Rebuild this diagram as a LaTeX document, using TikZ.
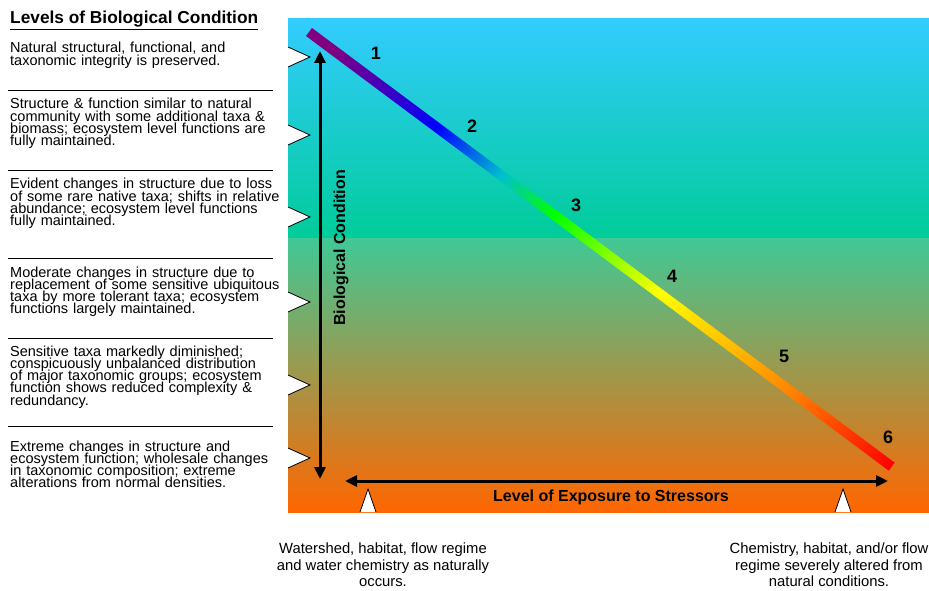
\documentclass[tikz,border=0pt]{standalone}
\usepackage{fontspec}
\setmainfont{Liberation Sans}
\usetikzlibrary{arrows.meta}
\definecolor{skytop}{HTML}{33CCFF}
\definecolor{skybot}{HTML}{00CC99}
\definecolor{lowtop}{HTML}{40C896}
\definecolor{lowmid}{HTML}{B89A70}
\definecolor{lowbot}{HTML}{FF6600}
\definecolor{rbpurple}{HTML}{800080}
\definecolor{rbteal}{HTML}{00C0D0}
\definecolor{rborange}{HTML}{FF8800}
\pgfdeclarehorizontalshading{rainbow}{100bp}{color(0bp)=(rbpurple); color(27bp)=(rbpurple);
  color(36bp)=(blue); color(41.5bp)=(rbteal); color(46bp)=(green); color(55bp)=(yellow);
  color(66bp)=(rborange); color(75bp)=(red); color(100bp)=(red)}
\DeclareRobustCommand\tightlines{\lineskiplimit=-20pt\relax}
\tikzset{
  condtext/.style={anchor=base west, inner sep=0pt, text width=270pt, align=left,
    font=\fontsize{14.5}{12.3}\selectfont\tightlines},
  numlab/.style={font=\bfseries\fontsize{18}{18}\selectfont},
  axislab/.style={font=\bfseries\fontsize{16}{16}\selectfont},
  endtext/.style={align=center, font=\fontsize{14.8}{16.5}\selectfont},
  notch/.style={fill=white, draw=black, line width=0.8pt},
  bigarrow/.style={{Triangle[length=12pt,width=11pt]}-{Triangle[length=12pt,width=11pt]}, line width=3pt}
}
\begin{document}
\begin{tikzpicture}[x=1pt, y=-1pt]
    \useasboundingbox (0,0) rectangle (929,591);
    %
    \shade[top color=skytop, bottom color=skybot] (288,19) rectangle (929,238.5);
    \shade[top color=lowtop, middle color=lowmid, bottom color=lowbot] (288,238.5) rectangle (929,512);
    \begin{scope}[transform canvas={shift={(309,32)}, rotate=-36.72}]
        \shade[shading=rainbow] (0,-5) rectangle (727,5);
    \end{scope}
    %
    \foreach \ny in {57,135,217,302,385,458}
        \filldraw[notch] (288,\ny-10) -- (310,\ny) -- (288,\ny+10);
    \foreach \nx in {368,843}
        \filldraw[notch] (\nx-8,512) -- (\nx,489) -- (\nx+8,512);
    %
    \node(title)[anchor=base west, inner sep=0pt, font=\bfseries\fontsize{17.3}{18}\selectfont]
        at (10,24) {\underline{Levels of Biological Condition}};
    \node(cond1)[condtext] at (10,53) {Natural structural, functional, and\\
        taxonomic integrity is preserved.};
    \node(cond2)[condtext] at (10,109) {Structure \& function similar to natural\\
        community with some additional taxa \&\\ biomass; ecosystem level functions are\\
        fully maintained.};
    \node(cond3)[condtext] at (10,189) {Evident changes in structure due to loss\\
        of some rare native taxa; shifts in relative\\ abundance; ecosystem level functions\\
        fully maintained.};
    \node(cond4)[condtext] at (10,277) {Moderate changes in structure due to\\
        replacement of some sensitive ubiquitous\\ taxa by more tolerant taxa; ecosystem\\
        functions largely maintained.};
    \node(cond5)[condtext] at (10,356) {Sensitive taxa markedly diminished;\\
        conspicuously unbalanced distribution\\ of major taxonomic groups; ecosystem\\
        function shows reduced complexity \&\\ redundancy.};
    \node(cond6)[condtext] at (10,451) {Extreme changes in structure and\\
        ecosystem function; wholesale changes\\ in taxonomic composition; extreme\\
        alterations from normal densities.};
    \foreach \sy in {90,170,258,338,426}
        \draw[line width=0.8pt] (8,\sy) -- (273,\sy);
    %
    \node(num1)[numlab] at (376,53) {1};
    \node(num2)[numlab] at (472,126) {2};
    \node(num3)[numlab] at (576,205) {3};
    \node(num4)[numlab] at (672,276) {4};
    \node(num5)[numlab] at (784,356) {5};
    \node(num6)[numlab] at (888,437) {6};
    %
    \coordinate (bctop) at (320,51);
    \coordinate (bcbot) at (320,479);
    \coordinate (exleft) at (345,481);
    \coordinate (exright) at (888,481);
    \draw[bigarrow] (bcbot) -- (bctop);
    \draw[bigarrow] (exleft) -- (exright);
    \node(biocond)[axislab, rotate=90] at (341,248) {Biological Condition};
    \node(exposure)[axislab] at (611,497) {Level of Exposure to Stressors};
    %
    \node(natural)[endtext] at (383,565) {Watershed, habitat, flow regime\\
        and water chemistry as naturally\\ occurs.};
    \node(altered)[endtext] at (829,565) {Chemistry, habitat, and/or flow\\
        regime severely altered from\\ natural conditions.};
\end{tikzpicture}
\end{document}
